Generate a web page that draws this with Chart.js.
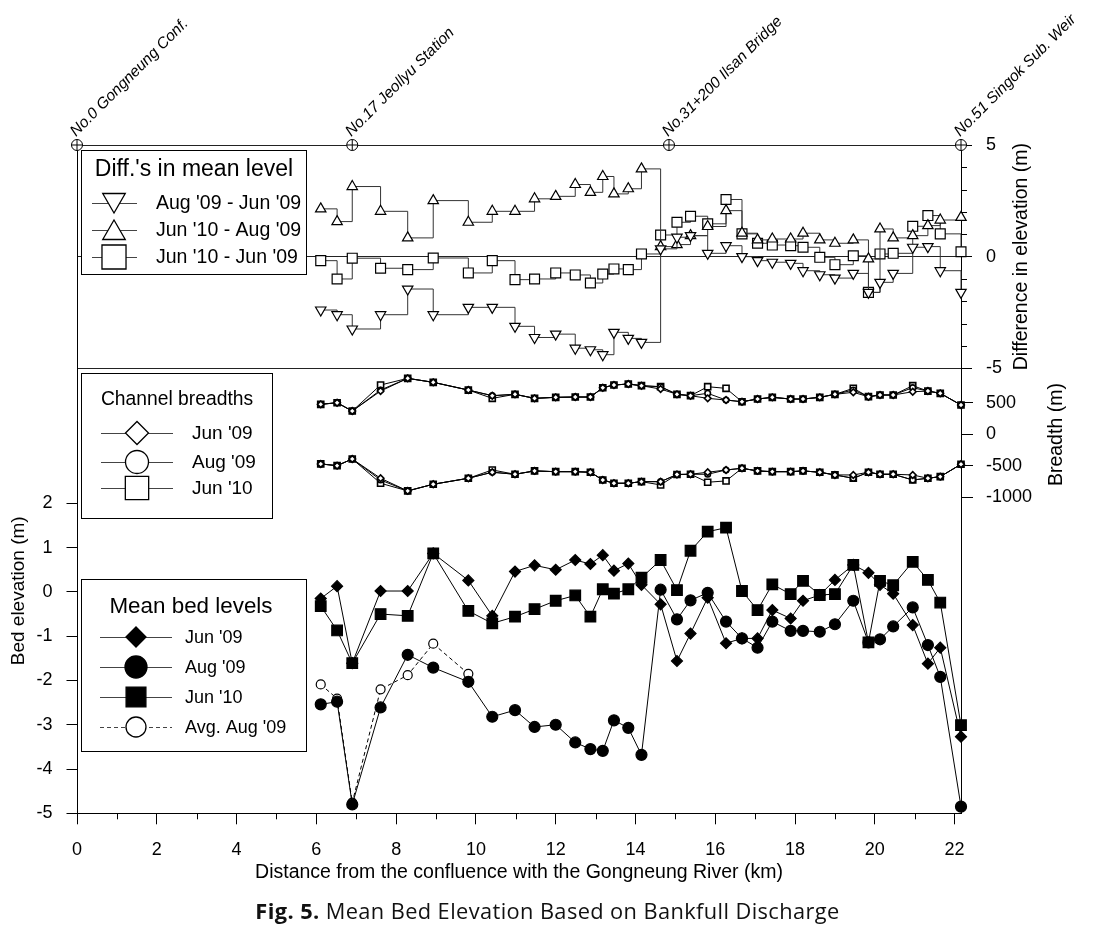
<!DOCTYPE html>
<html>
<head>
<meta charset="utf-8">
<script src="https://cdn.jsdelivr.net/npm/chart.js@4.4.1/dist/chart.umd.min.js"></script>
<style>
  html, body { margin: 0; padding: 0; background: #fff; }
  #wrap { position: relative; width: 1095px; height: 935px; }
  #caption { position: absolute; left: 0; top: 896px; width: 1095px; text-align: center;
             font: 21.8px "Open Sans", sans-serif; letter-spacing: 0.4px; color: #111; }
</style>
</head>
<body>
<div id="wrap">
  <canvas id="chart" width="1095" height="935"></canvas>
  <div id="caption"><b>Fig. 5.</b> Mean Bed Elevation Based on Bankfull Discharge</div>
</div>
<script>
const FONT = '"Liberation Sans", Arial, sans-serif';

// survey cross-sections, distance from the confluence (km)
const stationKm = [6.11, 6.52, 6.90, 7.61, 8.29, 8.93, 9.81, 10.41, 10.98, 11.47, 12.00, 12.49, 12.87,
  13.18, 13.46, 13.82, 14.15, 14.63, 15.04, 15.38, 15.81, 16.27, 16.67, 17.06, 17.43, 17.89, 18.20,
  18.62, 19.00, 19.46, 19.84, 20.13, 20.46, 20.95, 21.33, 21.64, 22.16];

const landmarkKm = [0, 6.90, 14.84, 22.16];
const landmarkNames = ['No.0 Gongneung Conf.', 'No.17 Jeollyu Station', 'No.31+200 Ilsan Bridge', 'No.51 Singok Sub. Weir'];

// differences in mean level (m)
const diffAug09Jun09 = [-2.39, -2.60, -3.24, -2.60, -1.45, -2.60, -2.27, -2.27, -3.12, -3.62, -3.47, -4.10, -4.17,
  -4.39, -3.39, -3.66, -3.84, 0.35, 0.87, 0.94, 0.15, 0.49, 0.00, -0.18, -0.25, -0.30, -0.63,
  -0.81, -0.96, -0.75, -1.60, -1.15, -0.75, 0.42, 0.45, -0.63, -1.60];
const diffJun10Aug09 = [2.14, 1.57, 3.14, 2.03, 0.84, 2.51, 1.54, 2.03, 2.03, 2.59, 2.70, 3.23, 2.88,
  3.59, 2.81, 3.04, 3.93, 0.45, 0.54, 0.94, 1.35, 2.06, 1.05, 0.75, 0.79, 0.79, 1.05,
  0.75, 0.60, 0.75, -0.10, 1.24, 0.84, 0.94, 1.39, 1.64, 1.76];
const diffJun10Jun09 = [-0.18, -1.00, -0.07, -0.52, -0.58, -0.06, -0.73, -0.18, -1.03, -1.00, -0.73, -0.82, -1.18,
  -0.78, -0.55, -0.58, 0.12, 0.97, 1.54, 1.81, 1.47, 2.56, 1.02, 0.60, 0.52, 0.49, 0.42,
  -0.03, -0.36, 0.04, -1.60, 0.12, 0.15, 1.36, 1.84, 1.02, 0.22];

// channel breadths (m), upper and lower bank lines
const breadthUpJun09 = [477, 502, 370, 688, 890, 827, 704, 614, 636, 572, 588, 593, 593,
  741, 784, 800, 773, 720, 636, 614, 572, 545, 518, 561, 588, 561, 561,
  588, 636, 668, 598, 625, 625, 677, 688, 652, 466];
const breadthUpAug09 = [477, 502, 370, 704, 890, 827, 704, 614, 636, 572, 588, 593, 593,
  741, 784, 800, 773, 757, 636, 614, 652, 545, 518, 561, 588, 561, 561,
  588, 636, 704, 598, 625, 625, 741, 688, 652, 466];
const breadthUpJun10 = [477, 502, 370, 784, 890, 827, 704, 572, 636, 572, 588, 593, 593,
  741, 784, 800, 773, 757, 636, 614, 757, 731, 518, 561, 588, 561, 561,
  588, 636, 731, 598, 625, 625, 773, 688, 652, 466];
const breadthLoJun09 = [-472, -499, -393, -700, -901, -795, -700, -604, -636, -583, -595, -595, -604,
  -727, -779, -779, -754, -754, -640, -636, -604, -568, -541, -583, -595, -595, -583,
  -604, -647, -647, -604, -636, -636, -647, -700, -674, -477];
const breadthLoAug09 = [-472, -499, -393, -727, -901, -795, -700, -604, -636, -583, -595, -595, -604,
  -727, -779, -779, -754, -754, -640, -636, -636, -568, -541, -583, -595, -595, -583,
  -604, -647, -700, -604, -636, -636, -727, -700, -674, -477];
const breadthLoJun10 = [-472, -499, -393, -779, -901, -795, -700, -568, -636, -583, -595, -595, -604,
  -727, -779, -779, -754, -806, -640, -636, -763, -742, -541, -583, -595, -595, -583,
  -604, -647, -700, -604, -636, -636, -727, -700, -674, -477];

// mean bed levels (m)
const bedJun09 = [-0.15, 0.13, -1.61, 0.02, 0.02, 0.87, 0.26, -0.54, 0.46, 0.60, 0.50, 0.72, 0.63,
  0.83, 0.48, 0.64, 0.16, -0.28, -1.56, -0.94, -0.13, -1.16, -1.05, -1.05, -0.41, -0.60, -0.20,
  -0.07, 0.27, 0.61, 0.43, 0.16, -0.04, -0.75, -1.62, -1.26, -3.27];
const bedAug09 = [-2.54, -2.48, -4.80, -2.61, -1.42, -1.71, -2.03, -2.82, -2.67, -3.05, -3.00, -3.40, -3.55,
  -3.59, -2.90, -3.07, -3.68, 0.05, -0.62, -0.19, -0.02, -0.67, -1.05, -1.26, -0.67, -0.88, -0.88,
  -0.90, -0.73, -0.20, -1.14, -1.07, -0.78, -0.35, -1.20, -1.92, -4.85];
const bedJun10 = [-0.32, -0.87, -1.61, -0.50, -0.54, 0.87, -0.43, -0.71, -0.56, -0.39, -0.20, -0.08, -0.56,
  0.06, -0.04, 0.06, 0.32, 0.72, 0.04, 0.93, 1.36, 1.45, 0.02, -0.41, 0.17, -0.05, 0.25,
  -0.07, -0.05, 0.61, -1.14, 0.25, 0.15, 0.68, 0.27, -0.24, -3.01];
const bedAvgAug09 = [-2.09, -2.41, -4.76, -2.20, -1.88, -1.17, -1.85];

// tick values
const xMajorTicks = [0, 2, 4, 6, 8, 10, 12, 14, 16, 18, 20, 22];
const xMinorTicks = [1, 3, 5, 7, 9, 11, 13, 15, 17, 19, 21];
const diffMajorTicks = [5, 0, -5];
const diffMinorTicks = [4, 3, 2, 1, -1, -2, -3, -4];
const breadthTicks = [500, 0, -500, -1000];
const bedTicks = [2, 1, 0, -1, -2, -3, -4, -5];

const pts = arr => arr.map((y, i) => ({ x: stationKm[i], y }));
const setTicks = list => scale => { scale.ticks = list.map(v => ({ value: v })); };
const plain = v => String(v);

function stepSeries(label, values, style, rotation) {
  return {
    label, data: pts(values), yAxisID: 'yDiff', stepped: true,
    borderColor: '#333', borderWidth: 1,
    pointStyle: style, pointRotation: rotation || 0,
    pointRadius: style === 'rect' ? 7 : 6,
    pointBackgroundColor: '#fff', pointBorderColor: '#000', pointBorderWidth: 1.2,
    clip: false
  };
}

function breadthSeries(values, style, r) {
  return {
    data: pts(values), yAxisID: 'yBr',
    borderColor: '#000', borderWidth: 1,
    pointStyle: style, pointRadius: r,
    pointBackgroundColor: '#fff', pointBorderColor: '#000', pointBorderWidth: 1.6,
    clip: false
  };
}

function bedSeries(values, style, r, fill, dash) {
  return {
    data: pts(values), yAxisID: 'yBed',
    borderColor: '#000', borderWidth: 1, borderDash: dash || [],
    pointStyle: style, pointRadius: r,
    pointBackgroundColor: fill, pointBorderColor: '#000', pointBorderWidth: 1.2,
    clip: false
  };
}

const datasets = [
  { data: landmarkKm.map(x => ({ x, y: 5 })), yAxisID: 'yDiff', showLine: false,
    pointStyle: 'cross', pointRadius: 5.5, pointBorderColor: '#000', pointBorderWidth: 1, clip: false },
  { data: landmarkKm.map(x => ({ x, y: 5 })), yAxisID: 'yDiff', showLine: false,
    pointStyle: 'circle', pointRadius: 5.5, pointBackgroundColor: '#fff', pointBorderColor: '#000',
    pointBorderWidth: 1, clip: false },
  stepSeries("Aug '09 - Jun '09", diffAug09Jun09, 'triangle', 180),
  stepSeries("Jun '10 - Aug '09", diffJun10Aug09, 'triangle'),
  stepSeries("Jun '10 - Jun '09", diffJun10Jun09, 'rect'),
  breadthSeries(breadthUpJun09, 'rectRot', 3.3),
  breadthSeries(breadthUpAug09, 'circle', 2.8),
  breadthSeries(breadthUpJun10, 'rect', 4.3),
  breadthSeries(breadthLoJun09, 'rectRot', 3.3),
  breadthSeries(breadthLoAug09, 'circle', 2.8),
  breadthSeries(breadthLoJun10, 'rect', 4.3),
  bedSeries(bedJun09, 'rectRot', 5.5, '#000'),
  bedSeries(bedAug09, 'circle', 5.5, '#000'),
  bedSeries(bedJun10, 'rect', 7.5, '#000'),
  bedSeries(bedAvgAug09, 'circle', 4.5, '#fff', [4, 3])
];

function drawLegend(ctx, box, title, rows) {
  ctx.fillStyle = '#fff';
  ctx.fillRect(box.x, box.y, box.w, box.h);
  ctx.strokeStyle = '#000';
  ctx.lineWidth = 1;
  ctx.strokeRect(box.x + 0.5, box.y + 0.5, box.w, box.h);
  ctx.fillStyle = '#000';
  ctx.textBaseline = 'middle';
  ctx.textAlign = 'center';
  ctx.font = title.font;
  ctx.fillText(title.text, title.x, title.y);
  ctx.textAlign = 'left';
  rows.forEach(r => {
    ctx.strokeStyle = '#444';
    ctx.lineWidth = 1;
    ctx.setLineDash(r.dash || []);
    ctx.beginPath();
    ctx.moveTo(r.x1, r.y + 0.5);
    ctx.lineTo(r.x2, r.y + 0.5);
    ctx.stroke();
    ctx.setLineDash([]);
    ctx.fillStyle = r.fill;
    ctx.strokeStyle = '#000';
    ctx.lineWidth = 1.3;
    Chart.helpers.drawPoint(ctx, { pointStyle: r.style, rotation: r.rot || 0, radius: r.radius, borderWidth: 1.3 },
      r.mx, r.y + (r.dy || 0));
    ctx.fillStyle = '#000';
    ctx.font = r.font;
    ctx.fillText(r.text, r.tx, r.y + 1);
  });
}

function sideTitle(ctx, text, x, y) {
  ctx.save();
  ctx.translate(x, y);
  ctx.rotate(-Math.PI / 2);
  ctx.textAlign = 'center';
  ctx.textBaseline = 'middle';
  ctx.fillText(text, 0, 0);
  ctx.restore();
}

const decor = {
  id: 'decor',
  afterDraw(chart) {
    const { ctx, chartArea } = chart;
    const { x, yDiff, yBr } = chart.scales;
    ctx.save();
    ctx.strokeStyle = '#000';
    ctx.lineWidth = 1;
    ctx.beginPath();
    xMinorTicks.forEach(v => {
      const px = Math.round(x.getPixelForValue(v)) + 0.5;
      ctx.moveTo(px, x.top);
      ctx.lineTo(px, x.top + 6);
    });
    diffMinorTicks.forEach(v => {
      const py = Math.round(yDiff.getPixelForValue(v)) + 0.5;
      ctx.moveTo(yDiff.left, py);
      ctx.lineTo(yDiff.left + 6, py);
    });
    ctx.stroke();

    ctx.fillStyle = '#000';
    ctx.font = '19.5px ' + FONT;
    sideTitle(ctx, 'Difference in elevation (m)', 1022, (yDiff.top + yDiff.bottom) / 2);
    sideTitle(ctx, 'Breadth (m)', 1057, (yBr.top + yBr.bottom) / 2);

    ctx.font = 'italic 15.5px ' + FONT;
    ctx.textAlign = 'left';
    ctx.textBaseline = 'alphabetic';
    landmarkKm.forEach((v, i) => {
      ctx.save();
      ctx.translate(x.getPixelForValue(v) - 1, chartArea.top - 8);
      ctx.rotate(-Math.PI / 4);
      ctx.fillText(landmarkNames[i], 0, 0);
      ctx.restore();
    });

    const fDiff = '19.5px ' + FONT;
    drawLegend(ctx, { x: 81, y: 150, w: 225, h: 124 },
      { text: "Diff.'s in mean level", font: '23px ' + FONT, x: 194, y: 170 }, [
        { text: "Aug '09 - Jun '09", style: 'triangle', rot: 180, radius: 13, dy: -3, fill: '#fff', y: 203, x1: 92, x2: 137, mx: 114, tx: 156, font: fDiff },
        { text: "Jun '10 - Aug '09", style: 'triangle', radius: 13, dy: 3, fill: '#fff', y: 230, x1: 92, x2: 137, mx: 114, tx: 156, font: fDiff },
        { text: "Jun '10 - Jun '09", style: 'rect', radius: 17, fill: '#fff', y: 257, x1: 92, x2: 137, mx: 114, tx: 156, font: fDiff }
      ]);
    const fBr = '19px ' + FONT;
    drawLegend(ctx, { x: 81, y: 373, w: 191, h: 145 },
      { text: 'Channel breadths', font: '19.3px ' + FONT, x: 177, y: 400 }, [
        { text: "Jun '09", style: 'rectRot', radius: 11.5, fill: '#fff', y: 433, x1: 101, x2: 173, mx: 137, tx: 192, font: fBr },
        { text: "Aug '09", style: 'circle', radius: 11.5, fill: '#fff', y: 462, x1: 101, x2: 173, mx: 137, tx: 192, font: fBr },
        { text: "Jun '10", style: 'rect', radius: 16.5, fill: '#fff', y: 488, x1: 101, x2: 173, mx: 137, tx: 192, font: fBr }
      ]);
    const fBed = '18px ' + FONT;
    drawLegend(ctx, { x: 81, y: 579, w: 225, h: 172 },
      { text: 'Mean bed levels', font: '22.4px ' + FONT, x: 191, y: 607 }, [
        { text: "Jun '09", style: 'rectRot', radius: 10, fill: '#000', y: 637, x1: 100, x2: 172, mx: 136, tx: 185, font: fBed },
        { text: "Aug '09", style: 'circle', radius: 11, fill: '#000', y: 667, x1: 100, x2: 172, mx: 136, tx: 185, font: fBed },
        { text: "Jun '10", style: 'rect', radius: 14, fill: '#000', y: 697, x1: 100, x2: 172, mx: 136, tx: 185, font: fBed },
        { text: "Avg. Aug '09", style: 'circle', radius: 10, fill: '#fff', dash: [4, 3], y: 727, x1: 100, x2: 172, mx: 136, tx: 185, font: fBed }
      ]);
    ctx.restore();
  }
};

Chart.defaults.font.family = FONT;
Chart.defaults.color = '#000';

const blankAxis = (position, stack, weight, stackWeight, width) => ({
  type: 'linear', position, stack, weight, stackWeight, min: 0, max: 1,
  ticks: { display: false }, grid: { display: false },
  border: { display: true, color: '#000', width: 1 },
  afterFit: s => { s.width = width; }
});

new Chart(document.getElementById('chart'), {
  type: 'line',
  data: { datasets },
  options: {
    responsive: false,
    animation: false,
    layout: { padding: { top: 145, left: 0, right: 0, bottom: 0 } },
    plugins: { legend: { display: false }, tooltip: { enabled: false } },
    scales: {
      x: {
        type: 'linear', min: 0, max: 22.16,
        afterBuildTicks: setTicks(xMajorTicks),
        afterFit: s => { s.height = 121.7; },
        grid: { drawOnChartArea: false, tickLength: 11, tickColor: '#000' },
        border: { display: true, color: '#000', width: 1 },
        ticks: { font: { size: 18 }, padding: 15, maxRotation: 0, callback: plain },
        title: { display: true, text: 'Distance from the confluence with the Gongneung River (km)',
                 font: { size: 19.5 }, padding: { top: 0, bottom: 51 } }
      },
      yDiff: {
        type: 'linear', position: 'right', stack: 'right', weight: 0, stackWeight: 223.3,
        min: -5, max: 5,
        afterBuildTicks: setTicks(diffMajorTicks),
        afterFit: s => { s.width = 134; },
        grid: { drawOnChartArea: true, color: '#222', lineWidth: 1, tickLength: 11, tickColor: '#000' },
        border: { display: true, color: '#000', width: 1 },
        ticks: { font: { size: 18 }, padding: 14, callback: plain }
      },
      yBr: {
        type: 'linear', position: 'right', stack: 'right', weight: 1, stackWeight: 132.6,
        min: -1060, max: 1050,
        afterBuildTicks: setTicks(breadthTicks),
        afterFit: s => { s.width = 134; },
        grid: { drawOnChartArea: false, tickLength: 12, tickColor: '#000' },
        border: { display: true, color: '#000', width: 1 },
        ticks: { font: { size: 18 }, padding: 13, callback: plain }
      },
      yBlankR: blankAxis('right', 'right', 2, 312.4, 134),
      yTopL: blankAxis('left', 'left', 1, 223.3, 77),
      yBed: {
        type: 'linear', position: 'left', stack: 'left', weight: 0, stackWeight: 445,
        min: -5, max: 5.05,
        afterBuildTicks: setTicks(bedTicks),
        afterFit: s => { s.width = 77; },
        grid: { drawOnChartArea: false, tickLength: 10.5, tickColor: '#000' },
        border: { display: true, color: '#000', width: 1 },
        ticks: { font: { size: 18 }, padding: 14, callback: plain },
        title: { display: true, text: 'Bed elevation (m)', font: { size: 19 }, padding: { top: 7, bottom: 0 } }
      }
    }
  },
  plugins: [decor]
});
</script>
</body>
</html>
